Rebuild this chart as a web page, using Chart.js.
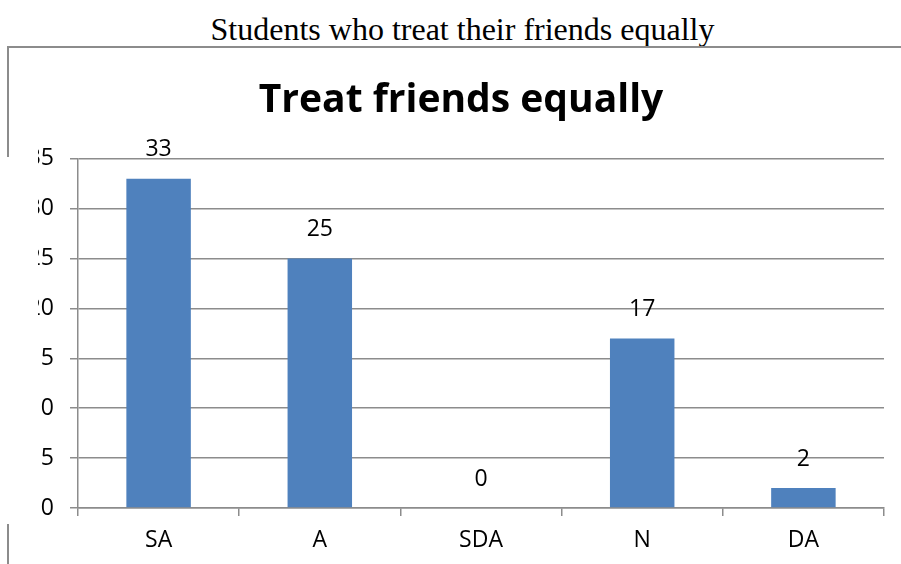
<!DOCTYPE html>
<html>
<head>
<meta charset="utf-8">
<script src="https://cdn.jsdelivr.net/npm/chart.js@4"></script>
<style>
  html, body { margin: 0; padding: 0; background: #fff; }
  body { width: 901px; height: 564px; position: relative; overflow: hidden; }
  #caption {
    position: absolute; left: 0; top: 13px; width: 925px;
    text-align: center; font-family: "Liberation Serif", serif;
    font-size: 32px; line-height: 32px; color: #000;
  }
  #frame {
    position: absolute; left: 7px; top: 46px; width: 1000px; height: 1000px;
    border-top: 2px solid #8c8c8c; border-left: 2px solid #8c8c8c;
    pointer-events: none;
  }
  #cover {
    position: absolute; left: 0; top: 157px; width: 32px; height: 367px;
    background: #fff;
  }
  #wrap { position: absolute; left: 0; top: 0; width: 901px; height: 564px; }
</style>
</head>
<body>
<div id="caption">Students who treat their friends equally</div>
<div id="wrap"><canvas id="chart" width="901" height="564"></canvas></div>
<div id="frame"></div>
<div id="cover"></div>
<script>
// values
const categories = ["SA", "A", "SDA", "N", "DA"];
const counts = [33, 25, 0, 17, 2];
const yMin = 0;
const yMax = 35;
const yStep = 5;

const barColor = "#4F81BD";
const lineColor = "#8c8c8c";
const tickFont = { family: "Open Sans", size: 23 };

// number above each bar
const valueLabels = {
  id: "valueLabels",
  afterDatasetsDraw(chart) {
    const ctx = chart.ctx;
    const meta = chart.getDatasetMeta(0);
    ctx.save();
    ctx.font = "23px 'Open Sans'";
    ctx.fillStyle = "#000";
    ctx.textAlign = "center";
    ctx.textBaseline = "middle";
    meta.data.forEach((bar, i) => {
      ctx.fillText(String(counts[i]), bar.x, bar.y - 29);
    });
    ctx.restore();
  }
};

new Chart(document.getElementById("chart"), {
  type: "bar",
  data: {
    labels: categories,
    datasets: [{
      data: counts,
      backgroundColor: barColor,
      borderWidth: 0,
      categoryPercentage: 1,
      barPercentage: 0.4
    }]
  },
  options: {
    responsive: false,
    animation: false,
    layout: { padding: { left: 38, right: 17, top: 0, bottom: 0 } },
    plugins: {
      legend: { display: false },
      tooltip: { enabled: false },
      title: {
        display: true,
        text: "Treat friends equally",
        color: "#000",
        font: { family: "Open Sans", size: 39, weight: "bold", lineHeight: 1.2 },
        padding: { top: 77, bottom: 35 }
      }
    },
    scales: {
      x: {
        afterFit(scale) { scale.height = 56; },
        grid: { drawOnChartArea: false, drawTicks: true, tickLength: 8, color: lineColor, lineWidth: 1.5 },
        border: { color: lineColor, width: 1.5 },
        ticks: { color: "#000", font: tickFont, padding: 11, maxRotation: 0 }
      },
      y: {
        min: yMin,
        max: yMax,
        afterFit(scale) { scale.width = 40; },
        grid: { color: lineColor, lineWidth: 1.5, tickLength: 8 },
        border: { color: lineColor, width: 1.5 },
        ticks: { stepSize: yStep, color: "#000", font: tickFont, padding: 16 }
      }
    }
  },
  plugins: [valueLabels]
});
</script>
</body>
</html>
